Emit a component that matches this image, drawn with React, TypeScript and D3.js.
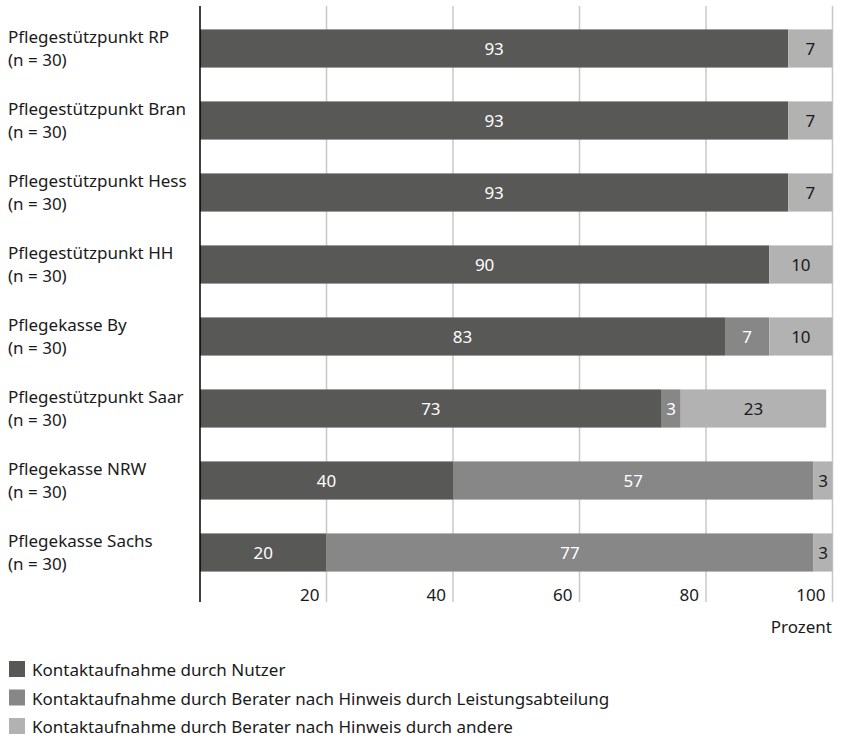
import React from "react";
import * as d3 from "d3";

const categories = [
  "Pflegestützpunkt RP",
  "Pflegestützpunkt Bran",
  "Pflegestützpunkt Hess",
  "Pflegestützpunkt HH",
  "Pflegekasse By",
  "Pflegestützpunkt Saar",
  "Pflegekasse NRW",
  "Pflegekasse Sachs",
];
const sampleLabels = ["(n = 30)", "(n = 30)", "(n = 30)", "(n = 30)", "(n = 30)", "(n = 30)", "(n = 30)", "(n = 30)"];
const nutzer = [93, 93, 93, 90, 83, 73, 40, 20];
const leistungsabteilung = [0, 0, 0, 0, 7, 3, 57, 77];
const andere = [7, 7, 7, 10, 10, 23, 3, 3];
const seriesNames = [
  "Kontaktaufnahme durch Nutzer",
  "Kontaktaufnahme durch Berater nach Hinweis durch Leistungsabteilung",
  "Kontaktaufnahme durch Berater nach Hinweis durch andere",
];
const tickValues = [20, 40, 60, 80, 100];
const axisTitle = "Prozent";

const COLORS = ["#585856", "#878787", "#b2b2b2"];
const TEXT_COLORS = ["#ffffff", "#ffffff", "#1a1a1a"];
const FONT = "'Noto Sans', 'Open Sans', sans-serif";

export default function App() {
  const width = 846;
  const height = 738;
  const x = d3.scaleLinear().domain([0, 100]).range([200, 832.5]);
  const y = d3
    .scaleBand<string>()
    .domain(categories)
    .range([12.5, 588.5])
    .paddingInner(0.47)
    .paddingOuter(0.235);

  const rows = categories.map((c, i) => ({
    cat: c,
    n: sampleLabels[i],
    nutzer: nutzer[i],
    leistungsabteilung: leistungsabteilung[i],
    andere: andere[i],
  }));
  const stack = d3.stack<any>().keys(["nutzer", "leistungsabteilung", "andere"]);
  const series = stack(rows);

  const axisTop = 6;
  const axisBottom = 602;

  return (
    <svg
      width={width}
      height={height}
      style={{ position: "absolute", left: 0, top: 0, fontFamily: FONT }}
    >
      <rect x={0} y={0} width={width} height={height} fill="#fff" />
      {tickValues.map((t) => (
        <line
          key={"g" + t}
          x1={x(t)}
          x2={x(t)}
          y1={axisTop}
          y2={axisBottom}
          stroke="#c8c8c8"
          strokeWidth={1.5}
        />
      ))}
      {series.map((s, si) =>
        s.map((d, i) => {
          const w = x(d[1]) - x(d[0]);
          if (w <= 0) return null;
          return (
            <rect
              key={si + "-" + i}
              x={x(d[0])}
              y={y(categories[i])}
              width={w}
              height={y.bandwidth()}
              fill={COLORS[si]}
            />
          );
        })
      )}
      {series.map((s, si) =>
        s.map((d, i) => {
          const v = d[1] - d[0];
          if (v <= 0) return null;
          return (
            <text
              key={"t" + si + "-" + i}
              x={(x(d[0]) + x(d[1])) / 2}
              y={(y(categories[i]) as number) + y.bandwidth() / 2}
              dy="0.36em"
              textAnchor="middle"
              fontSize={17}
              fill={TEXT_COLORS[si]}
            >
              {v}
            </text>
          );
        })
      )}
      <line x1={x(0)} x2={x(0)} y1={axisTop} y2={axisBottom} stroke="#000" strokeWidth={1.5} />
      {categories.map((c, i) => {
        const cy = (y(c) as number) + y.bandwidth() / 2;
        return (
          <g key={"l" + c}>
            <text x={8} y={cy - 5.5} fontSize={17} fill="#1a1a1a">
              {c}
            </text>
            <text x={8} y={cy + 17} fontSize={17} fill="#1a1a1a">
              {sampleLabels[i]}
            </text>
          </g>
        );
      })}
      {tickValues.map((t) => (
        <text
          key={"tk" + t}
          x={x(t) - 7}
          y={601}
          textAnchor="end"
          fontSize={17}
          fill="#1a1a1a"
        >
          {t}
        </text>
      ))}
      <text x={832} y={633} textAnchor="end" fontSize={17} fill="#1a1a1a">
        {axisTitle}
      </text>
      {seriesNames.map((n, i) => (
        <g key={"lg" + i}>
          <rect x={9} y={661 + i * 28.5} width={16} height={16} fill={COLORS[i]} />
          <text x={32} y={676 + i * 28.5} fontSize={17} fill="#1a1a1a">
            {n}
          </text>
        </g>
      ))}
    </svg>
  );
}
